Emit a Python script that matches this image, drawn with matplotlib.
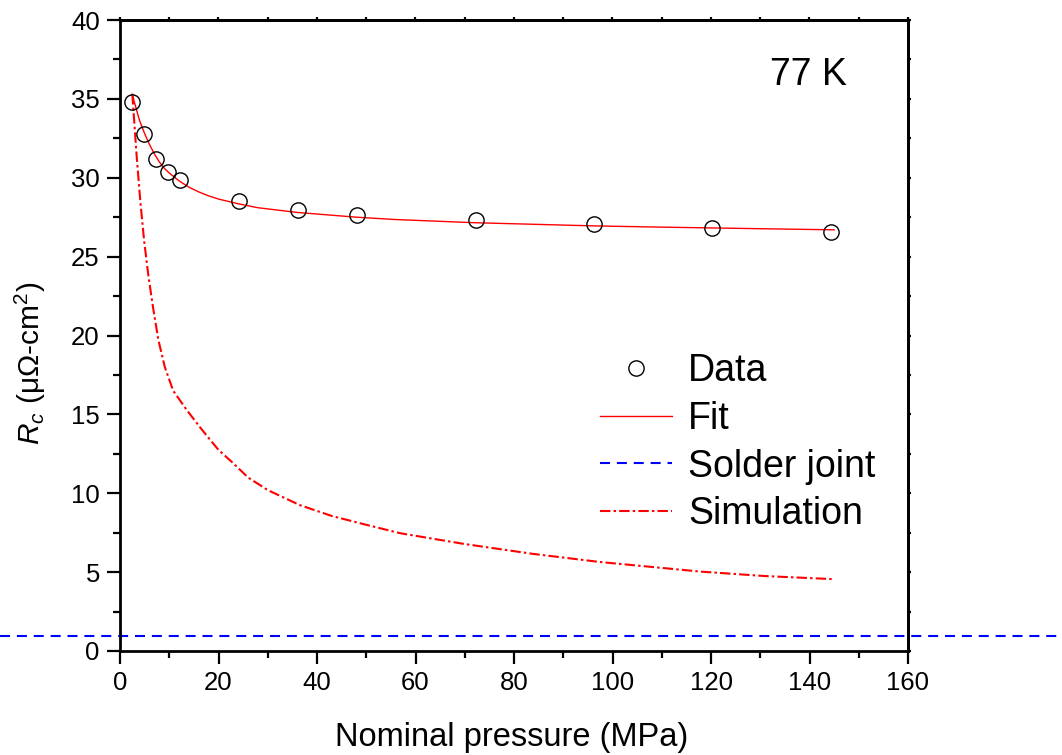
import matplotlib
matplotlib.use("Agg")
import matplotlib.pyplot as plt
import matplotlib.transforms as mtransforms
from matplotlib.ticker import MultipleLocator

plt.rcParams['font.family'] = ['Liberation Sans', 'DejaVu Sans']
plt.rcParams['mathtext.fontset'] = 'custom'
plt.rcParams['mathtext.rm'] = 'Liberation Sans'
plt.rcParams['mathtext.it'] = 'Liberation Sans:italic'

# measured contact resistance
pressure = [2.5, 4.9, 7.3, 9.8, 12.2, 24.2, 36.1, 48.1, 72.3, 96.2, 120.2, 144.4]
rc_data = [34.8, 32.75, 31.2, 30.35, 29.86, 28.55, 27.95, 27.65, 27.3, 27.07, 26.8, 26.55]

# fitted curve
fit_x = [2.5, 3, 4, 5, 6, 7, 8, 9, 10, 12, 14, 16, 18, 20, 24, 28, 32, 36, 40,
         48, 56, 64, 72, 84, 96, 108, 120, 132, 145]
fit_y = [35.3, 34.7, 33.6, 32.8, 32.1, 31.5, 31.0, 30.6, 30.3, 29.8, 29.4, 29.1,
         28.85, 28.65, 28.35, 28.1, 27.95, 27.8, 27.7, 27.5, 27.35, 27.25, 27.15,
         27.05, 26.95, 26.88, 26.82, 26.76, 26.7]

# simulation curve
sim_x = [2.5, 3.4, 4.1, 4.9, 5.8, 6.8, 7.8, 9.1, 10.8, 13.5, 16.2, 18, 20, 23,
         26, 30, 36.5, 43, 50, 57, 70, 84, 97.5, 118, 131, 144.5]
sim_y = [35.3, 31.3, 28.6, 26.0, 23.7, 21.6, 19.7, 18.0, 16.5, 15.3, 14.2, 13.5,
         12.75, 11.9, 11.0, 10.2, 9.25, 8.56, 8.0, 7.46, 6.78, 6.15, 5.64, 5.03,
         4.75, 4.56]

solder = 0.95

fig = plt.figure(figsize=(10.62, 7.55), dpi=100)
ax = fig.add_axes([120 / 1062, 1 - 651 / 755, 788 / 1062, 631 / 755])

ax.plot(pressure, rc_data, 'o', ms=11, mfc='none', mec='black', mew=1.0,
        label='Data', zorder=4)
ax.plot(fit_x, fit_y, '-', color='#ff0000', lw=1.0, label='Fit')
trans = mtransforms.blended_transform_factory(fig.transFigure, ax.transData)
ax.plot([0, 1], [solder, solder], color='#0000ff', lw=1.5,
        linestyle=(0, (4.8, 3.3)), transform=trans, clip_on=False,
        label='Solder joint')
ax.plot(sim_x, sim_y, color='#ff0000', lw=1.5,
        linestyle=(0, (5, 1.5, 1.2, 1.5)), label='Simulation')

ax.set_xlim(0, 160)
ax.set_ylim(0, 40)
ax.xaxis.set_major_locator(MultipleLocator(20))
ax.xaxis.set_minor_locator(MultipleLocator(10))
ax.yaxis.set_major_locator(MultipleLocator(5))
ax.yaxis.set_minor_locator(MultipleLocator(2.5))

for s in ax.spines.values():
    s.set_linewidth(2)
ax.tick_params(which='major', direction='out', length=9.5, width=1.6,
               labelsize=18.5, pad=5)
ax.tick_params(which='minor', direction='out', length=5, width=1.6)

top = ax.secondary_xaxis('top')
top.xaxis.set_major_locator(MultipleLocator(10))
top.tick_params(direction='out', length=2, width=1.6, labeltop=False)
right = ax.secondary_yaxis('right')
right.yaxis.set_major_locator(MultipleLocator(2.5))
right.tick_params(direction='out', length=2, width=1.6, labelright=False)
for sec in (top, right):
    for s in sec.spines.values():
        s.set_linewidth(2)

ax.set_xlabel('Nominal pressure (MPa)', fontsize=23.5)
ax.xaxis.set_label_coords(0.497, -0.112)
ax.set_ylabel(r'$R_c$ (μΩ-cm$^2$)', fontsize=21.5)
ax.yaxis.set_label_coords(-0.092, 0.456)

ax.text(0.825, 0.913, '77 K', transform=ax.transAxes, fontsize=27,
        ha='left', va='center')

ax.legend(loc='center left', bbox_to_anchor=(0.609, 0.330), frameon=False,
          fontsize=27, borderpad=0, borderaxespad=0, handlelength=1.92,
          handletextpad=0.43, labelspacing=0.31)

fig.savefig('out.png', dpi=100)
